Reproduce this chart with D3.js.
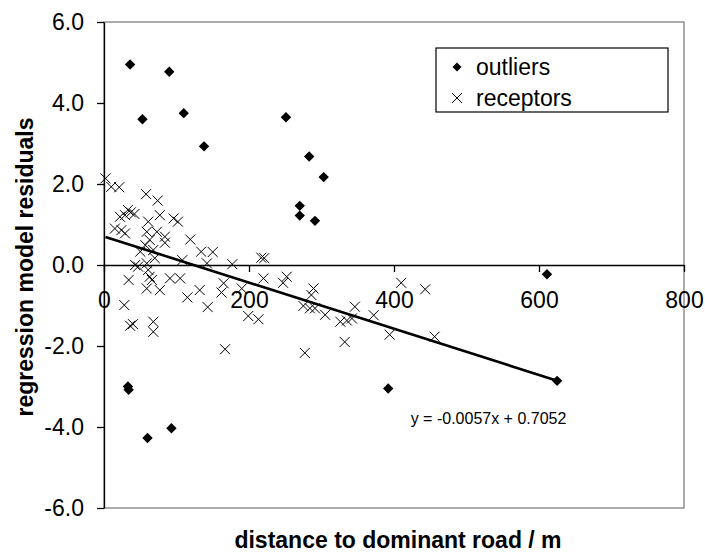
<!DOCTYPE html>
<html>
<head>
<meta charset="utf-8">
<script src="https://cdn.jsdelivr.net/npm/d3@7"></script>
<style>
  html, body { margin: 0; padding: 0; background: #fff; }
  svg { display: block; font-family: "Liberation Sans", Arial, sans-serif; }
</style>
</head>
<body>
<svg id="chart" width="705" height="558"></svg>
<script>
// ---- data ----
const outlierX = [36, 90, 53, 110, 251, 138, 283, 303, 270, 270, 291, 611, 625, 392, 33, 34, 60, 93];
const outlierY = [4.95, 4.77, 3.6, 3.75, 3.65, 2.93, 2.68, 2.17, 1.46, 1.22, 1.09, -0.23, -2.86, -3.05, -3.0, -3.08, -4.27, -4.03];

const receptorX = [2, 10, 21, 58, 74, 33, 37, 42, 22, 29, 77, 96, 102, 61, 15, 24, 29, 59, 73, 84,
  119, 63, 57, 84, 134, 150, 50, 68, 70, 108, 43, 47, 59, 61, 63, 66, 91, 105, 34, 59,
  77, 132, 115, 143, 28, 142, 177, 217, 221, 165, 162, 190, 220, 247, 252, 199, 213, 36, 40, 68,
  68, 167, 277, 289, 286, 275, 284, 291, 305, 326, 335, 342, 346, 372, 332, 394, 410, 443, 456];
const receptorY = [2.14, 1.93, 1.92, 1.75, 1.59, 1.36, 1.30, 1.26, 1.19, 1.23, 1.23, 1.15, 1.07, 1.07, 0.90, 0.86, 0.78, 0.82, 0.82, 0.70,
  0.63, 0.62, 0.49, 0.55, 0.33, 0.32, 0.33, 0.37, 0.17, 0.12, 0.00, -0.04, 0.04, -0.12, -0.29, -0.37, -0.33, -0.33, -0.37, -0.58,
  -0.62, -0.62, -0.80, -1.04, -0.99, 0.04, 0.02, 0.18, 0.17, -0.45, -0.68, -0.58, -0.33, -0.44, -0.29, -1.26, -1.34, -1.50, -1.46, -1.40,
  -1.65, -2.08, -2.17, -0.58, -0.74, -1.01, -1.07, -1.07, -1.23, -1.40, -1.37, -1.32, -1.03, -1.24, -1.90, -1.72, -0.44, -0.60, -1.77];

const trendSlope = -0.0057;
const trendIntercept = 0.7052;
const trendRange = [2, 625];
const trendLabel = "y = -0.0057x + 0.7052";

const xTicks = [0, 200, 400, 600, 800];
const yTicks = [-6, -4, -2, 0, 2, 4, 6];
const xTitle = "distance to dominant road / m";
const yTitle = "regression model residuals";
const legendLabels = ["outliers", "receptors"];

// ---- layout ----
const svg = d3.select("#chart");
const L = 104, R = 684, T = 22, B = 508;
const x = d3.scaleLinear().domain([0, 800]).range([L, R]);
const y = d3.scaleLinear().domain([-6, 6]).range([B, T]);
const fmtY = v => d3.format(".1f")(v).replace("\u2212", "-");

// plot area border (gray)
svg.append("rect")
  .attr("x", L).attr("y", T).attr("width", R - L).attr("height", B - T)
  .attr("fill", "none").attr("stroke", "#808080").attr("stroke-width", 1.3);

// y axis
const yAxis = svg.append("g")
  .attr("transform", `translate(${L},0)`)
  .call(d3.axisLeft(y).tickValues(yTicks).tickFormat(fmtY).tickSize(7).tickSizeOuter(0).tickPadding(13));
yAxis.select(".domain").attr("stroke", "#000").attr("stroke-width", 1.3);
yAxis.selectAll(".tick line").attr("stroke", "#000").attr("stroke-width", 1.3);
yAxis.selectAll("text").attr("font-size", 23).attr("fill", "#000")
  .attr("font-family", "'Liberation Sans', Arial, sans-serif");

// x axis at y = 0
const xAxis = svg.append("g")
  .attr("transform", `translate(0,${y(0)})`)
  .call(d3.axisBottom(x).tickValues(xTicks).tickFormat(d3.format("d")).tickSize(7).tickSizeOuter(0).tickPadding(20));
xAxis.select(".domain").attr("stroke", "#000").attr("stroke-width", 1.3);
xAxis.selectAll(".tick line").attr("stroke", "#000").attr("stroke-width", 1.3);
xAxis.selectAll("text").attr("font-size", 23).attr("fill", "#000")
  .attr("font-family", "'Liberation Sans', Arial, sans-serif");

// receptors (x marks)
const cs = 5;
const receptors = receptorX.map((v, i) => [v, receptorY[i]]);
svg.append("g").selectAll("path").data(receptors).join("path")
  .attr("d", d => {
    const cx = x(d[0]), cy = y(d[1]);
    return `M${cx - cs},${cy - cs}L${cx + cs},${cy + cs}M${cx - cs},${cy + cs}L${cx + cs},${cy - cs}`;
  })
  .attr("stroke", "#000").attr("stroke-width", 1).attr("fill", "none");

// outliers (diamonds)
const ds = 5.2;
const outliers = outlierX.map((v, i) => [v, outlierY[i]]);
svg.append("g").selectAll("path").data(outliers).join("path")
  .attr("d", d => {
    const cx = x(d[0]), cy = y(d[1]);
    return `M${cx},${cy - ds}L${cx + ds},${cy}L${cx},${cy + ds}L${cx - ds},${cy}Z`;
  })
  .attr("fill", "#000");

// trend line
svg.append("line")
  .attr("x1", x(trendRange[0])).attr("y1", y(trendSlope * trendRange[0] + trendIntercept))
  .attr("x2", x(trendRange[1])).attr("y2", y(trendSlope * trendRange[1] + trendIntercept))
  .attr("stroke", "#000").attr("stroke-width", 2.6);

svg.append("text")
  .attr("x", x(423)).attr("y", y(-3.93))
  .attr("font-size", 16).attr("fill", "#000")
  .text(trendLabel);

// legend
const lg = svg.append("g");
lg.append("rect")
  .attr("x", 436).attr("y", 48).attr("width", 232).attr("height", 64)
  .attr("fill", "#fff").attr("stroke", "#000").attr("stroke-width", 1.2);
const rowY = [67, 98];
lg.append("path")
  .attr("d", `M457,${rowY[0] - 4.5}L461.5,${rowY[0]}L457,${rowY[0] + 4.5}L452.5,${rowY[0]}Z`)
  .attr("fill", "#000");
lg.append("path")
  .attr("d", `M452,${rowY[1] - 5}L462,${rowY[1] + 5}M452,${rowY[1] + 5}L462,${rowY[1] - 5}`)
  .attr("stroke", "#000").attr("stroke-width", 1);
lg.selectAll("text.lab").data(legendLabels).join("text")
  .attr("class", "lab")
  .attr("x", 476).attr("y", (d, i) => rowY[i])
  .attr("dy", "0.35em")
  .attr("font-size", 23).attr("fill", "#000")
  .text(d => d);

// axis titles
svg.append("text")
  .attr("x", 398).attr("y", 548)
  .attr("text-anchor", "middle")
  .attr("font-size", 23).attr("font-weight", "bold").attr("fill", "#000")
  .text(xTitle);

svg.append("text")
  .attr("transform", `translate(25,267) rotate(-90)`)
  .attr("text-anchor", "middle")
  .attr("dy", "0.35em")
  .attr("font-size", 23).attr("font-weight", "bold").attr("fill", "#000")
  .text(yTitle);
</script>
</body>
</html>
